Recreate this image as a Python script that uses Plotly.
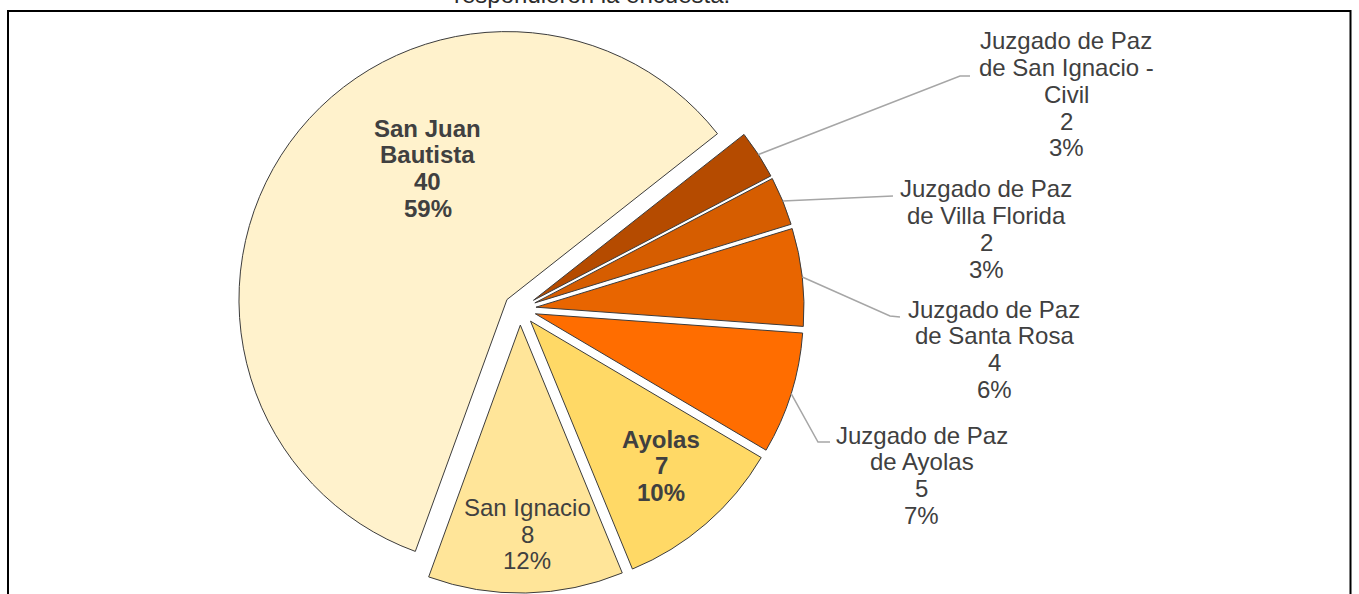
import math
import plotly.graph_objects as go

# ---------------- data ----------------
labels = [
    "San Juan Bautista",
    "Juzgado de Paz de San Ignacio - Civil",
    "Juzgado de Paz de Villa Florida",
    "Juzgado de Paz de Santa Rosa",
    "Juzgado de Paz de Ayolas",
    "Ayolas",
    "San Ignacio",
]
label_lines = [
    ["San Juan", "Bautista"],
    ["Juzgado de Paz", "de San Ignacio -", "Civil"],
    ["Juzgado de Paz", "de Villa Florida"],
    ["Juzgado de Paz", "de Santa Rosa"],
    ["Juzgado de Paz", "de Ayolas"],
    ["Ayolas"],
    ["San Ignacio"],
]
values = [40, 2, 2, 4, 5, 7, 8]
colors = ["#FFF2CC", "#B54B00", "#D65D00", "#E86500", "#FF6D00", "#FFD966", "#FFE599"]
bold = [True, False, False, False, False, True, False]
title_tail = "respondieron la encuesta."

# ---------------- layout (pixels) ----------------
W, H = 1359, 594
CX, CY = 520, 309          # pie centre
R_PIE = 268                # pie radius
PULL = 0.06
ROT = 200
LINE_H = 26.7
FONT = "Liberation Sans, Arial, sans-serif"
TXT = "#404040"

# label block positions: (centre x, first-line centre y)
label_pos = [(427.5, 128), (1066, 41), (986, 189), (994, 309), (922, 435), (661, 439), (527, 507.5)]
# leader line extra points after the slice edge (None = inside label)
leader_pts = [None, [(960, 76), (970, 76)], [(893, 196)], [(890, 316), (900, 317)],
              [(818, 442), (830, 442)], None, None]


def px(x):
    return x / W


def py(y):
    return 1 - y / H


box = 2 * R_PIE * (1 + PULL)
dx0 = (CX - box / 2) / W
dx1 = (CX + box / 2) / W
dy0 = 1 - (CY + box / 2) / H
dy1 = dy0 + box / H

fig = go.Figure()
fig.add_trace(go.Pie(
    labels=labels,
    values=values,
    sort=False,
    direction="clockwise",
    rotation=ROT,
    pull=[PULL] * len(values),
    marker=dict(colors=colors, line=dict(color="#3C3C3C", width=1)),
    textinfo="none",
    hoverinfo="label+value+percent",
    showlegend=False,
    domain=dict(x=[dx0, dx1], y=[dy0, dy1]),
))

total = sum(values)
annotations = []
shapes = []
cum = 0
for i, v in enumerate(values):
    mid = ROT + (cum + v / 2) / total * 360
    cum += v
    a = math.radians(mid)
    ux, uy = math.sin(a), -math.cos(a)
    # slice tip after pull, then edge point on arc
    tx, ty = CX + PULL * R_PIE * ux, CY + PULL * R_PIE * uy
    ex, ey = tx + R_PIE * ux, ty + R_PIE * uy

    lines = label_lines[i] + [str(v), f"{round(100 * v / total)}%"]
    lx, ly = label_pos[i]
    for k, t in enumerate(lines):
        txt = f"<b>{t}</b>" if bold[i] else t
        annotations.append(dict(
            x=px(lx), y=py(ly + k * LINE_H), xref="paper", yref="paper",
            text=txt, showarrow=False, xanchor="center", yanchor="middle",
            font=dict(family=FONT, size=24, color=TXT),
        ))
    if leader_pts[i]:
        pts = [(ex, ey)] + leader_pts[i]
        path = "M " + " L ".join(f"{px(x):.5f},{py(y):.5f}" for x, y in pts)
        shapes.append(dict(type="path", path=path, xref="paper", yref="paper",
                           line=dict(color="#A6A6A6", width=1.5)))

# partially visible title line at the very top (cut off, as in the source image)
annotations.append(dict(
    x=px(592), y=py(-5.5), xref="paper", yref="paper", text=title_tail,
    showarrow=False, xanchor="center", yanchor="middle",
    font=dict(family=FONT, size=24, color="#2B2B2B"),
))

# chart border
shapes.append(dict(type="rect", xref="paper", yref="paper",
                   x0=px(8), x1=px(1350.5), y0=py(11), y1=py(640),
                   line=dict(color="black", width=2), fillcolor="rgba(0,0,0,0)"))

fig.update_layout(
    width=W, height=H,
    margin=dict(l=0, r=0, t=0, b=0),
    paper_bgcolor="white",
    plot_bgcolor="white",
    annotations=annotations,
    shapes=shapes,
)

fig.write_html("out.html",
               config={"displayModeBar": False},
               post_script="document.body.style.margin='0';document.body.style.overflow='hidden';")
